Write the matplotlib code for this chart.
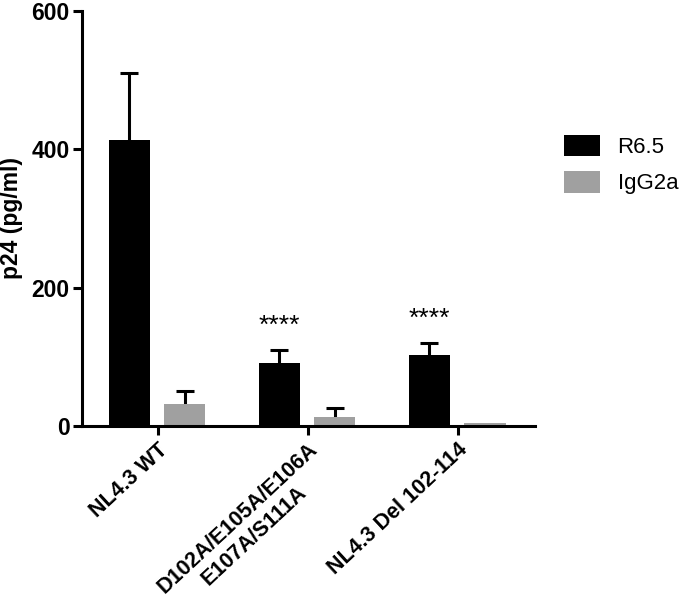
import numpy as np
import matplotlib.pyplot as plt

groups = ['NL4.3 WT', 'D102A/E105A/E106A\nE107A/S111A', 'NL4.3 Del 102-114']
r65 = [413, 91, 102]
r65_err = [97, 19, 18]
igg = [32, 13, 4]
igg_err = [18, 13, 0]
stars = ['', '****', '****']

plt.rcParams['font.family'] = ['Liberation Sans', 'DejaVu Sans']

fig = plt.figure(figsize=(6.8, 6.06), dpi=100)
ax = fig.add_axes([0.12, 0.297, 0.667, 0.685])

x = np.arange(len(groups))
w = 0.275
lw = 2.2
cap = 0.06

ax.bar(x - 0.19, r65, w, color='black', label='R6.5', zorder=2)
ax.bar(x + 0.18, igg, w, color='#a0a0a0', label='IgG2a', zorder=2)

# upper error bars only
for xs, vals, errs in [(x - 0.19, r65, r65_err), (x + 0.18, igg, igg_err)]:
    for xi, v, e in zip(xs, vals, errs):
        if e > 0:
            ax.vlines(xi, v, v + e, color='black', lw=lw, zorder=1)
            ax.hlines(v + e, xi - cap, xi + cap, color='black', lw=lw, zorder=1)

for i, s in enumerate(stars):
    if s:
        ax.text(x[i] - 0.19, r65[i] + r65_err[i] + 18, s, ha='center',
                va='bottom', fontsize=19)

ax.set_xlim(-0.507, 2.515)
ax.set_ylim(0, 600)
ax.set_yticks([0, 200, 400, 600])
ax.set_xticks(x)
ax.set_xticklabels(groups, rotation=43, ha='right', va='top',
                   rotation_mode='anchor', multialignment='center',
                   linespacing=1.2, fontsize=15.5, fontweight='bold')
for lab in ax.get_yticklabels():
    lab.set_fontsize(16.5)
    lab.set_fontweight('bold')
ax.set_ylabel('p24 (pg/ml)', fontsize=16.5, fontweight='bold', labelpad=6)

for side in ['top', 'right']:
    ax.spines[side].set_visible(False)
for side in ['left', 'bottom']:
    ax.spines[side].set_linewidth(lw)
ax.tick_params(axis='both', width=lw, length=6.5, pad=2)
ax.tick_params(axis='x', pad=3)

ax.legend(loc='upper left', bbox_to_anchor=(1.02, 0.75), frameon=False,
          fontsize=16, handlelength=1.6, handleheight=1.1, labelspacing=0.6,
          handletextpad=0.8)

fig.savefig('out.png', dpi=100)
